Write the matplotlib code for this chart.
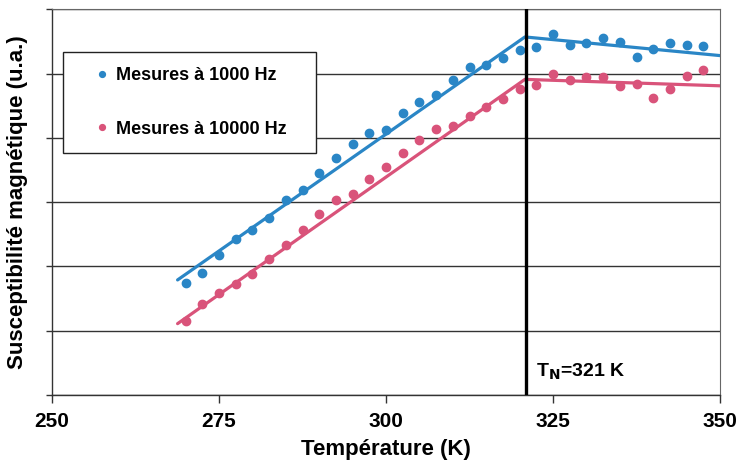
import numpy as np
import matplotlib
matplotlib.use("Agg")
import matplotlib.pyplot as plt

# ---------------- data ----------------
temperature = [270, 272.5, 275, 277.5, 280, 282.5, 285, 287.5, 290, 292.5,
               295, 297.5, 300, 302.5, 305, 307.5, 310, 312.5, 315, 317.5,
               320, 322.5, 325, 327.5, 330, 332.5, 335, 337.5, 340, 342.5,
               345, 347.5]
chi_1000 = [1.74, 1.90, 2.18, 2.43, 2.57, 2.76, 3.03, 3.19, 3.46, 3.68,
            3.91, 4.08, 4.12, 4.38, 4.56, 4.67, 4.90, 5.11, 5.13, 5.25,
            5.36, 5.42, 5.62, 5.44, 5.47, 5.56, 5.49, 5.26, 5.38, 5.47,
            5.45, 5.43]
chi_10000 = [1.15, 1.41, 1.59, 1.73, 1.88, 2.11, 2.34, 2.56, 2.82, 3.04,
             3.13, 3.36, 3.54, 3.77, 3.97, 4.14, 4.19, 4.34, 4.48, 4.60,
             4.76, 4.82, 5.00, 4.90, 4.94, 4.95, 4.81, 4.84, 4.62, 4.76,
             4.97, 5.05]
fit_T = [268.8, 320.8, 350]
fit_1000 = [1.79, 5.57, 5.28]
fit_10000 = [1.11, 4.91, 4.81]
T_N = 321
x_ticks = [250, 275, 300, 325, 350]
y_grid = [0, 1, 2, 3, 4, 5, 6]
labels = ["Mesures à 1000 Hz", "Mesures à 10000 Hz"]

plt.rcParams["font.family"] = ["Liberation Sans", "DejaVu Sans"]

blue = "#2a86c6"
pink = "#d9537a"

fig = plt.figure(figsize=(7.37, 4.67), dpi=100)
ax = fig.add_axes([52/737, (467-395)/467, (720-52)/737, (395-9.3)/467])

ax.set_xlim(250, 350)
ax.set_ylim(0, 6)

for g in y_grid:
    ax.axhline(g, color="#333333", lw=1.0, zorder=1)

ax.plot(fit_T, fit_1000, color=blue, lw=2.3, zorder=3, solid_capstyle="round")
ax.plot(fit_T, fit_10000, color=pink, lw=2.3, zorder=3, solid_capstyle="round")
ax.plot(temperature, chi_1000, ls="none", marker="o", ms=6, color=blue,
        zorder=4, label=labels[0])
ax.plot(temperature, chi_10000, ls="none", marker="o", ms=6, color=pink,
        zorder=4, label=labels[1])

ax.axvline(T_N, color="black", lw=2.4, zorder=5)
ax.text(T_N + 1.4, 0.28, r"T$_\mathbf{N}$=321 K", fontsize=14,
        fontweight="bold", ha="left", va="baseline", zorder=6)

ax.set_xticks(x_ticks)
ax.set_xticklabels([str(t) for t in x_ticks], fontweight="bold", fontsize=15)
ax.set_yticks(y_grid)
ax.set_yticklabels([])
ax.tick_params(axis="x", direction="out", length=6, width=1, color="#333333", pad=6)
ax.tick_params(axis="y", direction="out", length=4, width=1, color="#333333")

for s in ["left", "bottom"]:
    ax.spines[s].set_color("#333333")
    ax.spines[s].set_linewidth(1.0)
for s in ["top", "right"]:
    ax.spines[s].set_color("#666666")
    ax.spines[s].set_linewidth(0.8)

ax.set_xlabel("Température (K)", fontweight="bold", fontsize=16, labelpad=6)
ax.set_ylabel("Susceptibilité magnétique (u.a.)", fontweight="bold", fontsize=16)
ax.yaxis.label.set_va("center")
ax.yaxis.set_label_coords((18 - 52) / 668, 0.5)

leg = ax.legend(loc="upper left", bbox_to_anchor=(0.0165, 0.889, 0.378, 0.0),
                mode="expand", borderaxespad=0, frameon=True, fancybox=False,
                edgecolor="#222222", framealpha=1,
                prop={"weight": "bold", "size": 13}, labelspacing=2.0,
                borderpad=0.85, handlelength=2.66, handletextpad=-0.6,
                markerscale=0.7)
leg.get_frame().set_linewidth(1.0)
leg.set_zorder(7)

fig.savefig("out.png", dpi=100)
